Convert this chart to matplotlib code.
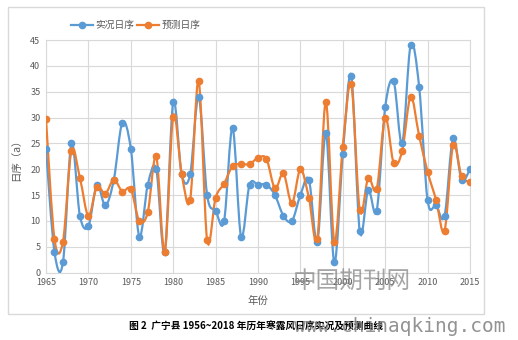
import numpy as np
import matplotlib.pyplot as plt
from matplotlib.path import Path
from matplotlib.patches import PathPatch, Rectangle
from matplotlib.lines import Line2D

plt.rcParams['font.family'] = ['Noto Sans CJK SC', 'DejaVu Sans']

years = np.arange(1965, 2016)
observed = [24, 4, 2, 25, 11, 9, 17, 13, 18, 29,
            24, 7, 17, 20, 4, 33, 19, 19, 34, 15,
            12, 10, 28, 7, 17, 17, 17, 15, 11, 10,
            15, 18, 6, 27, 2, 23, 38, 8, 16, 12,
            32, 37, 25, 44, 36, 14, 13, 11, 26, 18, 20]
predicted = [29.7, 6.5, 6, 23.6, 18.3, 11, 16.6, 15.3, 18, 15.7,
             16.2, 10, 11.7, 22.5, 4, 30.2, 19.1, 14.1, 37.1, 6.3,
             14.5, 17.2, 20.6, 21, 21, 22.2, 22, 16.3, 19.2, 13.4,
             20, 14.5, 6.6, 33, 6, 24.4, 36.4, 12.1, 18.3, 16.2,
             30, 21.2, 23.5, 34, 26.5, 19.5, 14.1, 8.1, 24.6, 18.7, 17.5]

BLUE = '#5B9BD5'
ORANGE = '#ED7D31'
GREY = '#595959'


def smooth_path(x, y):
    # Excel-style smoothed line: cubic Bezier through every point
    p = np.column_stack([x, y]).astype(float)
    n = len(p)
    verts = [p[0]]
    codes = [Path.MOVETO]
    for i in range(n - 1):
        prev = p[i - 1] if i > 0 else p[i]
        nxt = p[i + 2] if i + 2 < n else p[i + 1]
        c1 = p[i] + (p[i + 1] - prev) / 6
        c2 = p[i + 1] - (nxt - p[i]) / 6
        verts += [c1, c2, p[i + 1]]
        codes += [Path.CURVE4] * 3
    return Path(verts, codes)


fig = plt.figure(figsize=(5.18, 3.4), dpi=100)
fig.patches.append(Rectangle((8 / 518, 1 - 314 / 340), 476 / 518, 307 / 340,
                             transform=fig.transFigure, fill=False,
                             edgecolor='#D9D9D9', linewidth=1))
ax = fig.add_axes([46 / 518, 1 - 272.7 / 340, 424 / 518, 232.7 / 340])

for vals, col in [(observed, BLUE), (predicted, ORANGE)]:
    ax.add_patch(PathPatch(smooth_path(years, vals), facecolor='none',
                           edgecolor=col, linewidth=1.6, zorder=3))
    ax.plot(years, vals, linestyle='none', marker='o', markersize=4.5,
            color=col, zorder=4)

ax.set_xlim(1965, 2015)
ax.set_ylim(0, 45)
ax.set_xticks(np.arange(1965, 2016, 5))
ax.set_yticks(np.arange(0, 46, 5))
ax.grid(color='#D9D9D9', linewidth=0.8)
ax.set_axisbelow(True)
for s in ax.spines.values():
    s.set_color('#D9D9D9')
    s.set_linewidth(0.8)
ax.tick_params(length=0, labelsize=6.5, colors=GREY, pad=4)

fig.text(16 / 518, 1 - 157 / 340, '日序（a）', rotation=90, ha='center',
         va='center', fontsize=7.5, color=GREY)
fig.text(258 / 518, 1 - 301 / 340, '年份', ha='center', va='center',
         fontsize=7.5, color=GREY)

handles = [Line2D([], [], color=BLUE, marker='o', markersize=4.5, linewidth=1.6),
           Line2D([], [], color=ORANGE, marker='o', markersize=4.5, linewidth=1.6)]
fig.legend(handles, ['实况日序', '预测日序'], loc='center',
           bbox_to_anchor=(136 / 518, 1 - 25 / 340), ncol=2, frameon=False,
           fontsize=7, labelcolor=GREY, handlelength=2.2, handletextpad=0.3,
           columnspacing=0.3)

fig.text(256 / 518, 1 - 327 / 340, '图 2  广宁县 1956~2018 年历年寒露风日序实况及预测曲线',
         ha='center', va='center', fontsize=7, fontweight='bold', color='black')

# watermark
fig.text(352 / 518, 1 - 281 / 340, '中国期刊网', ha='center', va='center',
         fontsize=17, color='#808080', alpha=0.7)
fig.text(400 / 518, 1 - 327 / 340, 'www.chinaqking.com', ha='center', va='center',
         fontsize=14, color='#808080', alpha=0.85, family='DejaVu Sans Mono')

fig.savefig('out.png', dpi=100)
